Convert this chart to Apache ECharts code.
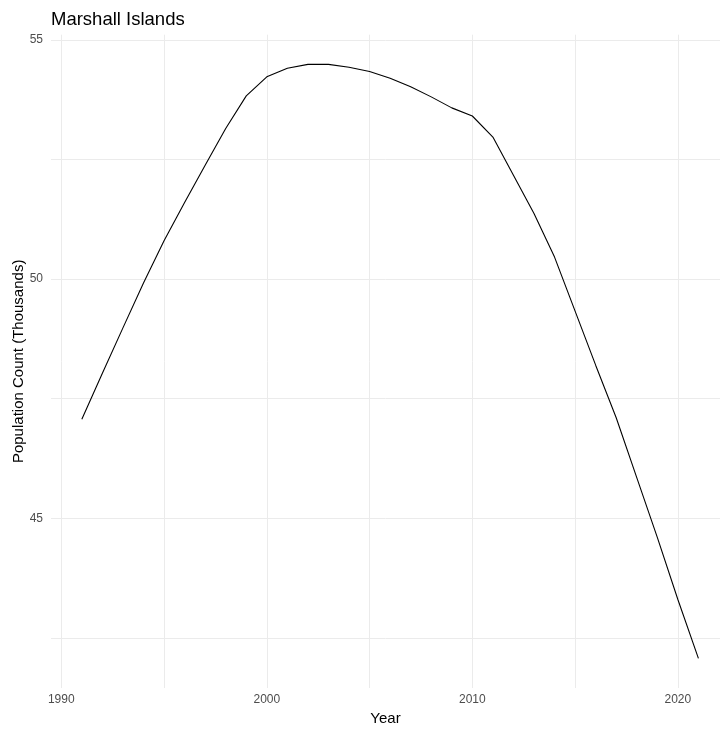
<!DOCTYPE html>
<html>
<head>
<meta charset="utf-8">
<script src="https://cdn.jsdelivr.net/npm/echarts@6/dist/echarts.min.js"></script>
<style>
  html, body { margin: 0; padding: 0; background: #fff; }
  #chart { width: 720px; height: 729px; }
</style>
</head>
<body>
<div id="chart"></div>
<script>
const years = [1991, 1992, 1993, 1994, 1995, 1996, 1997, 1998, 1999, 2000,
  2001, 2002, 2003, 2004, 2005, 2006, 2007, 2008, 2009, 2010,
  2011, 2012, 2013, 2014, 2015, 2016, 2017, 2018, 2019, 2020, 2021]
const population = [47.07, 48.03, 48.98, 49.92, 50.80, 51.60, 52.38, 53.15, 53.83, 54.23,
  54.41, 54.49, 54.49, 54.43, 54.34, 54.20, 54.02, 53.81, 53.58, 53.41,
  52.97, 52.17, 51.37, 50.46, 49.33, 48.20, 47.10, 45.85, 44.60, 43.30, 42.07]

const xGrid = [1990, 1995, 2000, 2005, 2010, 2015, 2020]
const xLabels = [1990, 2000, 2010, 2020]
const yGrid = [42.5, 45, 47.5, 50, 52.5, 55]
const yLabels = [45, 50, 55]

const font = 'Liberation Sans, Arial, sans-serif'
const gridLine = { show: true, lineStyle: { color: '#ebebeb', width: 1 } }

const chart = echarts.init(document.getElementById('chart'), null, { renderer: 'canvas' })

chart.setOption({
  backgroundColor: '#fff',
  animation: false,
  title: {
    text: 'Marshall Islands',
    left: 46,
    top: 5,
    textStyle: { fontFamily: font, fontSize: 18.5, fontWeight: 'normal', color: '#000' }
  },
  grid: {
    left: 51,
    right: 0,
    top: 34.7,
    bottom: 41,
    containLabel: false,
    outerBoundsMode: 'none'
  },
  xAxis: {
    type: 'value',
    min: 1989.5,
    max: 2022.05,
    name: 'Year',
    nameLocation: 'middle',
    nameGap: 23,
    nameMoveOverlap: false,
    nameTextStyle: { fontFamily: font, fontSize: 15, color: '#000' },
    axisLine: { show: false },
    axisTick: { show: false, customValues: xGrid },
    axisLabel: {
      customValues: xLabels,
      formatter: v => String(v),
      margin: 6,
      fontFamily: font,
      fontSize: 12,
      color: '#4d4d4d'
    },
    splitLine: gridLine
  },
  yAxis: {
    type: 'value',
    min: 41.45,
    max: 55.11,
    name: 'Population Count (Thousands)',
    nameLocation: 'middle',
    nameGap: 25,
    nameMoveOverlap: false,
    nameTextStyle: { fontFamily: font, fontSize: 15, color: '#000' },
    axisLine: { show: false },
    axisTick: { show: false, customValues: yGrid },
    axisLabel: {
      customValues: yLabels,
      formatter: v => String(v),
      margin: 8,
      fontFamily: font,
      fontSize: 12,
      color: '#4d4d4d'
    },
    splitLine: gridLine
  },
  series: [
    {
      type: 'line',
      data: years.map((y, i) => [y, population[i]]),
      symbol: 'none',
      smooth: false,
      lineStyle: { color: '#000', width: 1.1 }
    }
  ]
})
</script>
</body>
</html>
